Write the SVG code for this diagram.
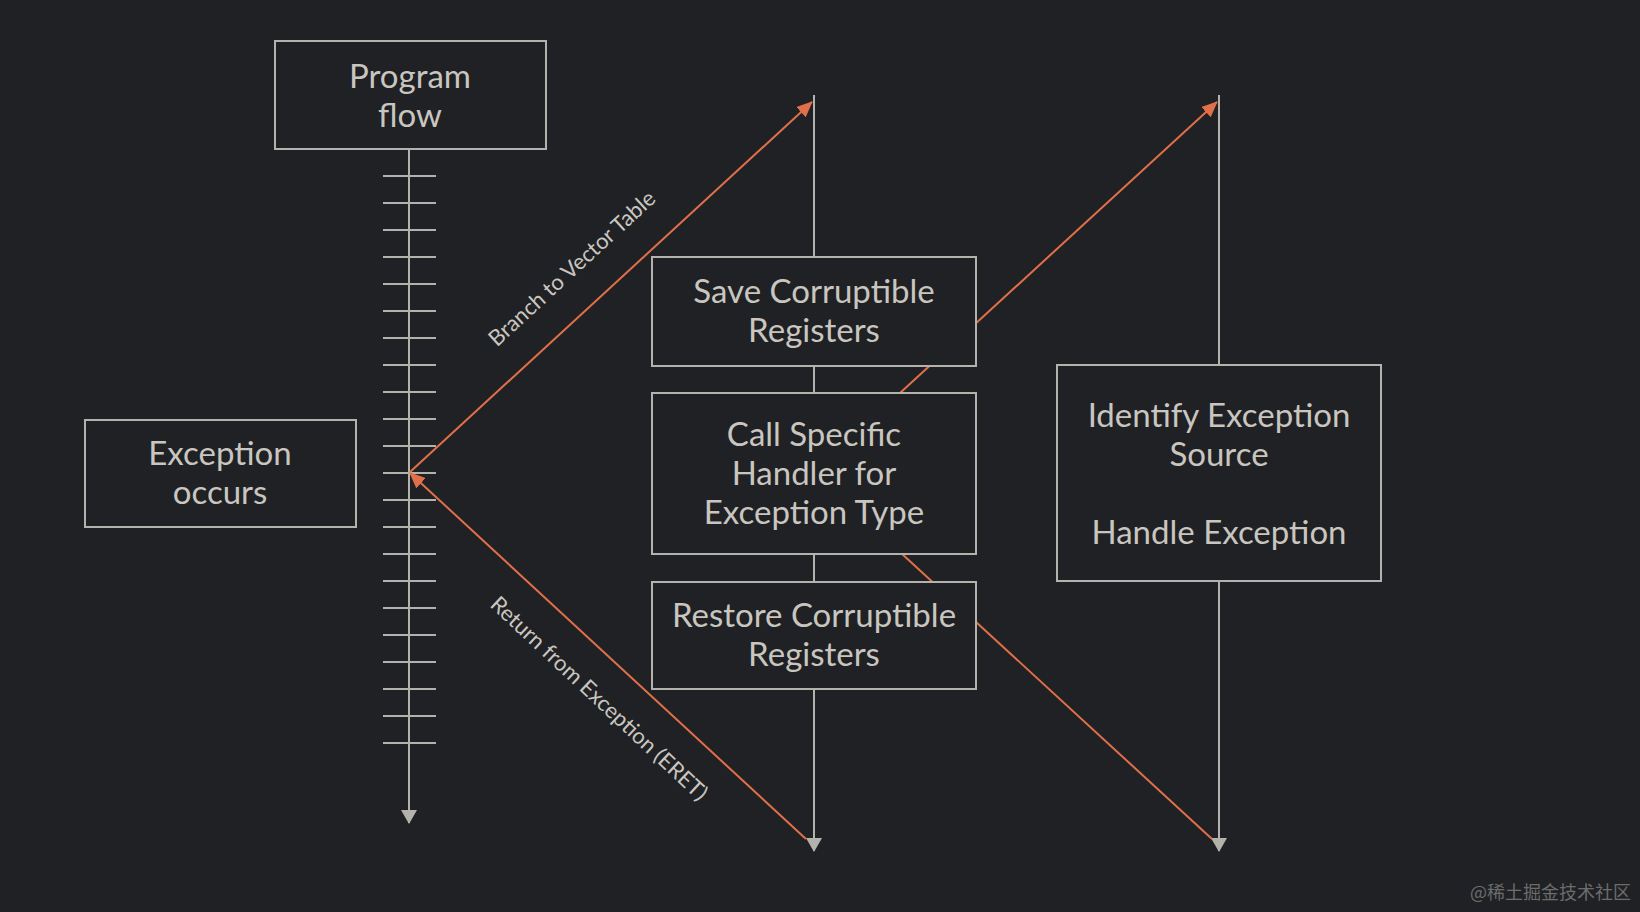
<svg xmlns="http://www.w3.org/2000/svg" width="1640" height="912" viewBox="0 0 1640 912">
<defs>
<style>
.box{fill:#202124;stroke:#b4b2ad;stroke-width:2}
.t{font-family:Lato,"Liberation Sans",sans-serif;font-size:33px;fill:#c9c6c0;text-anchor:middle}
.lbl{font-family:Lato,"Liberation Sans",sans-serif;font-size:22px;fill:#c9c6c0;text-anchor:middle}
.g{stroke:#b4b2ad;stroke-width:2;fill:none}
.o{stroke:#e0704a;stroke-width:2;fill:none}
.tick{stroke:#b4b2ad;stroke-width:2}
</style>
<marker id="ao" markerUnits="userSpaceOnUse" markerWidth="16" markerHeight="14" refX="15" refY="7" orient="auto">
<path d="M0,0 L16,7 L0,14 z" fill="#e0704a"/>
</marker>
<marker id="ag" markerUnits="userSpaceOnUse" markerWidth="14" markerHeight="16" refX="13" refY="8" orient="auto">
<path d="M0,0 L14,8 L0,16 z" fill="#b4b2ad"/>
</marker>
</defs>
<rect width="1640" height="912" fill="#202124"/>
<g id="connectors">
<line class="g" x1="409" y1="149" x2="409" y2="823" marker-end="url(#ag)"/>
<g id="ticks">
<line class="tick" x1="383" y1="176" x2="436" y2="176"/>
<line class="tick" x1="383" y1="203" x2="436" y2="203"/>
<line class="tick" x1="383" y1="230" x2="436" y2="230"/>
<line class="tick" x1="383" y1="257" x2="436" y2="257"/>
<line class="tick" x1="383" y1="284" x2="436" y2="284"/>
<line class="tick" x1="383" y1="311" x2="436" y2="311"/>
<line class="tick" x1="383" y1="338" x2="436" y2="338"/>
<line class="tick" x1="383" y1="365" x2="436" y2="365"/>
<line class="tick" x1="383" y1="392" x2="436" y2="392"/>
<line class="tick" x1="383" y1="419" x2="436" y2="419"/>
<line class="tick" x1="383" y1="446" x2="436" y2="446"/>
<line class="tick" x1="383" y1="473" x2="436" y2="473"/>
<line class="tick" x1="383" y1="500" x2="436" y2="500"/>
<line class="tick" x1="383" y1="527" x2="436" y2="527"/>
<line class="tick" x1="383" y1="554" x2="436" y2="554"/>
<line class="tick" x1="383" y1="581" x2="436" y2="581"/>
<line class="tick" x1="383" y1="608" x2="436" y2="608"/>
<line class="tick" x1="383" y1="635" x2="436" y2="635"/>
<line class="tick" x1="383" y1="662" x2="436" y2="662"/>
<line class="tick" x1="383" y1="689" x2="436" y2="689"/>
<line class="tick" x1="383" y1="716" x2="436" y2="716"/>
<line class="tick" x1="383" y1="743" x2="436" y2="743"/>
</g>
<line class="g" x1="814" y1="95" x2="814" y2="851" marker-end="url(#ag)"/>
<line class="g" x1="1219" y1="95" x2="1219" y2="851" marker-end="url(#ag)"/>
<line class="o" x1="410" y1="472" x2="812" y2="102" marker-end="url(#ao)"/>
<line class="o" x1="806" y1="839" x2="410" y2="473" marker-end="url(#ao)"/>
<line class="o" x1="814" y1="472" x2="1217" y2="102" marker-end="url(#ao)"/>
<line class="o" x1="1212" y1="839" x2="814" y2="473"/>
<text class="lbl" transform="translate(577,274) rotate(-42.6)">Branch to Vector Table</text>
<text class="lbl" transform="translate(594,704) rotate(43)">Return from Exception (ERET)</text>
</g>
<g id="program-flow">
<rect class="box" x="275" y="41" width="271" height="108"/>
<text class="t" x="410" y="88">Program</text>
<text class="t" x="410" y="127">flow</text>
</g>
<g id="exception-occurs">
<rect class="box" x="85" y="420" width="271" height="107"/>
<text class="t" x="220" y="465">Exception</text>
<text class="t" x="220" y="504">occurs</text>
</g>
<g id="save-registers">
<rect class="box" x="652" y="257" width="324" height="109"/>
<text class="t" x="814" y="303">Save Corruptible</text>
<text class="t" x="814" y="342">Registers</text>
</g>
<g id="call-handler">
<rect class="box" x="652" y="393" width="324" height="161"/>
<text class="t" x="814" y="446">Call Specific</text>
<text class="t" x="814" y="485">Handler for</text>
<text class="t" x="814" y="524">Exception Type</text>
</g>
<g id="restore-registers">
<rect class="box" x="652" y="582" width="324" height="107"/>
<text class="t" x="814" y="627">Restore Corruptible</text>
<text class="t" x="814" y="666">Registers</text>
</g>
<g id="identify-exception">
<rect class="box" x="1057" y="365" width="324" height="216"/>
<text class="t" x="1219" y="427">Identify Exception</text>
<text class="t" x="1219" y="466">Source</text>
<text class="t" x="1219" y="544">Handle Exception</text>
</g>
<text x="1631" y="899" text-anchor="end" font-family="'Noto Sans CJK SC',sans-serif" font-size="18" fill="#6c6c6c">@稀土掘金技术社区</text>
</svg>
